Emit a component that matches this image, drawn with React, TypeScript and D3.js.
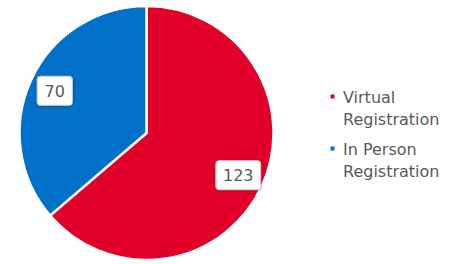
import React from "react";
import * as d3 from "d3";

const categories = ["Virtual Registration", "In Person Registration"];
const legendLines = [["Virtual", "Registration"], ["In Person", "Registration"]];
const values = [123, 70];
const colors = ["#E0002A", "#0070C8"];

export default function App() {
  const width = 458;
  const height = 264;
  const cx = 146.5;
  const cy = 133;
  const r = 127;
  const pie = d3.pie<number>().sort(null).value((d) => d);
  const arcs = pie(values);
  const arc = d3.arc<d3.PieArcDatum<number>>().innerRadius(0).outerRadius(r);
  const labelArc = d3.arc<d3.PieArcDatum<number>>().innerRadius(101).outerRadius(101);
  const fontFamily = "'DejaVu Sans', sans-serif";
  return (
    <svg width={width} height={height} style={{ position: "absolute", left: 0, top: 0, background: "#fff" }}>
      <defs>
        <filter id="sh" x="-20%" y="-20%" width="140%" height="140%">
          <feDropShadow dx="0.5" dy="0.5" stdDeviation="0.8" floodColor="#000" floodOpacity="0.35" />
        </filter>
      </defs>
      <g transform={`translate(${cx},${cy})`}>
        {arcs.map((a, i) => (
          <path key={i} d={arc(a) || ""} fill={colors[i]} stroke="#fff" strokeWidth={2.5} strokeLinejoin="round" />
        ))}
        {arcs.map((a, i) => {
          const [x, y] = labelArc.centroid(a);
          const txt = String(values[i]);
          const w = txt.length * 9.6 + 16;
          const h = 29;
          return (
            <g key={"l" + i} transform={`translate(${x},${y})`}>
              <rect x={-w / 2} y={-h / 2} width={w} height={h} rx={3} fill="#fff" stroke="#d0d0d0" strokeWidth={1} filter="url(#sh)" />
              <text textAnchor="middle" dy="0.36em" fontSize={16} fontFamily={fontFamily} fill="#595959">
                {txt}
              </text>
            </g>
          );
        })}
      </g>
      <g>
        {categories.map((c, i) => {
          const y0 = i === 0 ? 103 : 155;
          return (
            <g key={c}>
              <rect x={330.5} y={y0 - 8.5} width={4} height={4} fill={colors[i]} />
              {legendLines[i].map((ln, j) => (
                <text key={j} x={343} y={y0 + j * 22} fontSize={16} fontFamily={fontFamily} fill="#595959">
                  {ln}
                </text>
              ))}
            </g>
          );
        })}
      </g>
    </svg>
  );
}
